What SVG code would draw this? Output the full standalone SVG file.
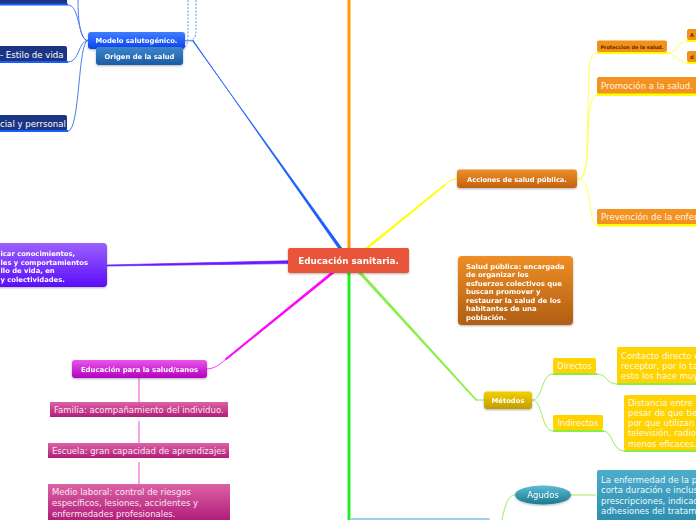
<svg xmlns="http://www.w3.org/2000/svg" width="696" height="520" viewBox="0 0 696 520">
<defs>
<linearGradient id="gBlue" x1="0" y1="0" x2="0" y2="1"><stop offset="0" stop-color="#3f7dff"/><stop offset="1" stop-color="#0a42ee"/></linearGradient>
<linearGradient id="gOrig" x1="0" y1="0" x2="0" y2="1"><stop offset="0" stop-color="#3e86cc"/><stop offset="1" stop-color="#1a5ba2"/></linearGradient>
<linearGradient id="gPurp" x1="0" y1="0" x2="0" y2="1"><stop offset="0" stop-color="#9c60ff"/><stop offset="1" stop-color="#5a0ef8"/></linearGradient>
<linearGradient id="gMag" x1="0" y1="0" x2="0" y2="1"><stop offset="0" stop-color="#ea55ea"/><stop offset="1" stop-color="#b400c0"/></linearGradient>
<linearGradient id="gPink" x1="0" y1="0" x2="0" y2="1"><stop offset="0" stop-color="#dc62a6"/><stop offset="1" stop-color="#b01e78"/></linearGradient>
<linearGradient id="gOr" x1="0" y1="0" x2="0" y2="1"><stop offset="0" stop-color="#ec8e2c"/><stop offset="1" stop-color="#c4620f"/></linearGradient>
<linearGradient id="gOr2" x1="0" y1="0" x2="0" y2="1"><stop offset="0" stop-color="#ee8e26"/><stop offset="1" stop-color="#b05e12"/></linearGradient>
<linearGradient id="gGold" x1="0" y1="0" x2="0" y2="1"><stop offset="0" stop-color="#f4d000"/><stop offset="1" stop-color="#c39c00"/></linearGradient>
<linearGradient id="gTeal" x1="0" y1="0" x2="0" y2="1"><stop offset="0" stop-color="#5cbcd4"/><stop offset="1" stop-color="#187890"/></linearGradient>
<linearGradient id="gTealBox" x1="0" y1="0" x2="0" y2="1"><stop offset="0" stop-color="#4eaccb"/><stop offset="1" stop-color="#2a8cae"/></linearGradient>
<filter id="sh" x="-10%" y="-20%" width="120%" height="150%"><feDropShadow dx="0" dy="1" stdDeviation="1" flood-color="#000" flood-opacity="0.3"/></filter>
</defs>
<style>
text{font-family:"DejaVu Sans",Verdana,sans-serif}
.b{font-weight:bold}
.w{fill:#ffffff}
.lt{fill:#fff2e6}
.pk{fill:#fbe4f2}
.yt{fill:#fffbe4}
.c{text-anchor:middle}
</style>

<g id="connectors">
  <polygon points="193,40.3 338.3,248 341.7,248 193,41.5" fill="#1a5cff" stroke="#1a5cff" stroke-width="0.7" stroke-linejoin="round"/>
  <path d="M185,40.8 L194,40.8" stroke="#3a70ff" stroke-width="1" fill="none"/>
  <rect x="347.5" y="0" width="3" height="248" fill="#ff9900"/>
  <polygon points="365.5,248 368.5,248 446,184.8 445.2,184" fill="#ffff00" stroke="#ffff00" stroke-width="0.7"/>
  <path d="M445.5,184.5 C449,181 452,179 457,179" stroke="#ffff00" stroke-width="1" fill="none"/>
  <polygon points="288,260.8 288,263.6 107,266 107,265" fill="#6a1cff" stroke="#6a1cff" stroke-width="0.7"/>
  <polygon points="330.5,273 334,273 226,360 225,359" fill="#ff00ff" stroke="#ff00ff" stroke-width="0.7"/>
  <path d="M225.5,359.5 C219,365 214,369 206,369" stroke="#ff33ff" stroke-width="1" fill="none"/>
  <rect x="347.5" y="273" width="3" height="247" fill="#22ee22"/>
  <polygon points="358.5,273 362,273 477,400 476,400.5" fill="#88ee44" stroke="#88ee44" stroke-width="0.7"/>
  <path d="M476.5,400 L484,400" stroke="#88ee44" stroke-width="1" fill="none"/>

  <g stroke="#4a7cf0" stroke-width="1" fill="none">
    <path d="M88,40.5 C78,40.5 80,5 68,5"/>
    <path d="M88,40.5 C80,40.5 78,20 78,0"/>
    <path d="M88,40.5 C78,40.5 80,62 68,62"/>
    <path d="M88,40.5 C78,40.5 80,131 68,131"/>
  </g>
  <g stroke="#5a90f0" stroke-width="1" fill="none" stroke-dasharray="2,1.5">
    <path d="M196,0 L196,30 Q196,40 190,40.5"/>
    <path d="M188,0 L188,36 Q188,46 183,49"/>
  </g>

  <g stroke="#ffff55" stroke-width="1" fill="none">
    <path d="M577,179 C585,179 586,170 587,150 L589,72 C590,57 592,53 598,53"/>
    <path d="M577,179 C585,179 587,165 588,140 C589,110 590,95 598,95"/>
    <path d="M577,179 C586,179 588,190 590,205 C592,220 594,225.5 598,225.5"/>
    <path d="M668,53 C676,53 678,41 688,41"/>
    <path d="M668,53 C676,53 678,63 688,63"/>
  </g>

  <g stroke="#99ee55" stroke-width="1" fill="none">
    <path d="M532,400 C543,400 541,374 553,374"/>
    <path d="M532,400 C543,400 541,431 553,431"/>
    <path d="M597,374 C607,374 606,384 617,384"/>
    <path d="M603,431 C613,431 612,451 624,451"/>
    <path d="M571,495 L596,495"/>
    <path d="M515,495 C508,495 505,505 502,520"/>
  </g>

  <g stroke="#f8a6ea" stroke-width="2" fill="none">
    <path d="M139,378 L139,402"/>
    <path d="M139,421 L139,443"/>
    <path d="M139,462 L139,484"/>
  </g>
</g>

<g id="n-top-clipped">
  <rect x="-4" y="-10" width="71" height="14" fill="#1b3584"/>
  <rect x="-4" y="3.5" width="72" height="2" fill="#1a5cff"/>
</g>
<g id="n-estilo">
  <rect x="-4" y="46" width="71" height="16" rx="2" fill="#1b3584"/>
  <rect x="-4" y="61" width="72" height="2" fill="#1a5cff"/>
  <text x="0" y="57.5" font-size="8.6" class="w">- Estilo de vida</text>
</g>
<g id="n-social">
  <rect x="-4" y="115" width="71" height="16" rx="2" fill="#1b3584"/>
  <rect x="-4" y="130" width="72" height="2" fill="#1a5cff"/>
  <text x="0" y="126.5" font-size="8.6" class="w">cial y perrsonal</text>
</g>

<g id="n-modelo" filter="url(#sh)">
  <rect x="88" y="32" width="97" height="17" rx="3" fill="url(#gBlue)"/>
  <text x="136.5" y="43.3" font-size="6.8" class="b w c">Modelo salutogénico.</text>
</g>
<g id="n-origen" filter="url(#sh)">
  <rect x="96" y="47" width="87" height="18" rx="3" fill="url(#gOrig)"/>
  <text x="139.5" y="58.8" font-size="6.8" class="b w c">Origen de la salud</text>
</g>

<g id="n-purple" filter="url(#sh)">
  <rect x="-6" y="243" width="113" height="44" rx="4" fill="url(#gPurp)"/>
  <text font-size="6.8" class="b w">
    <tspan x="0.5" y="255.5">icar conocimientos,</tspan>
    <tspan x="0.5" y="264.5">les y comportamientos</tspan>
    <tspan x="0.5" y="273">llo de vida, en</tspan>
    <tspan x="0.5" y="281.5">y colectividades.</tspan>
  </text>
</g>

<g id="n-center" filter="url(#sh)">
  <rect x="288" y="248" width="121" height="25" rx="2" fill="#e8553b"/>
  <text x="348.5" y="264.3" font-size="8.8" class="b w c">Educación sanitaria.</text>
</g>

<g id="n-edsalud" filter="url(#sh)">
  <rect x="72" y="360" width="135" height="18" rx="3" fill="url(#gMag)"/>
  <text x="139.5" y="371.8" font-size="6.9" class="b w c">Educación para la salud/sanos</text>
</g>
<g id="n-familia">
  <rect x="50" y="402" width="178" height="15" fill="url(#gPink)"/>
  <text x="54" y="413" font-size="8.5" class="pk">Familia: acompañamiento del individuo.</text>
</g>
<g id="n-escuela">
  <rect x="48" y="443" width="181" height="15" fill="url(#gPink)"/>
  <text x="52" y="454" font-size="8.5" class="pk">Escuela: gran capacidad de aprendizajes</text>
</g>
<g id="n-medio">
  <rect x="48" y="484" width="182" height="36" fill="url(#gPink)"/>
  <text font-size="8.5" class="pk">
    <tspan x="52" y="495">Medio laboral: control de riesgos</tspan>
    <tspan x="52" y="506">específicos, lesiones, accidentes y</tspan>
    <tspan x="52" y="516.5">enfermedades profesionales.</tspan>
  </text>
</g>

<g id="n-acciones" filter="url(#sh)">
  <rect x="457" y="169.5" width="120" height="18.5" rx="3" fill="url(#gOr)"/>
  <text x="517" y="181.8" font-size="6.7" class="b w c">Acciones de salud pública.</text>
</g>
<g id="n-proteccion">
  <rect x="597" y="40.5" width="70" height="11.5" rx="2" fill="#f39019"/>
  <rect x="597" y="52" width="71" height="2" fill="#ffff00"/>
  <text x="632" y="48.7" font-size="4.9" class="b c" fill="#5a2a00">Proteccion de la salud.</text>
</g>
<g id="n-prot-a">
  <rect x="687" y="29" width="14" height="11" rx="2" fill="#f39019"/>
  <rect x="687" y="40" width="14" height="2" fill="#ffff00"/>
  <text x="690" y="37" font-size="5" class="b" fill="#5a2a00">A</text>
</g>
<g id="n-prot-d">
  <rect x="687" y="51" width="14" height="11" rx="2" fill="#f39019"/>
  <rect x="687" y="62" width="14" height="2" fill="#ffff00"/>
  <text x="690" y="59" font-size="5" class="b" fill="#5a2a00">d</text>
</g>
<g id="n-promocion">
  <rect x="597" y="77" width="104" height="17" rx="2" fill="#f39220"/>
  <rect x="597" y="93.5" width="104" height="2.5" fill="#ffff00"/>
  <text x="601" y="89" font-size="8.6" class="lt">Promoción a la salud.</text>
</g>
<g id="n-prevencion">
  <rect x="597" y="209" width="104" height="15.5" rx="2" fill="#f39220"/>
  <rect x="597" y="224" width="104" height="2.5" fill="#ffff00"/>
  <text x="601" y="220" font-size="8.6" class="lt">Prevención de la enfer</text>
</g>

<g id="n-saludpublica" filter="url(#sh)">
  <rect x="458" y="256" width="115" height="69" rx="4" fill="url(#gOr2)"/>
  <text font-size="6.9" class="b w">
    <tspan x="466" y="268.5">Salud pública: encargada</tspan>
    <tspan x="466" y="277">de organizar los</tspan>
    <tspan x="466" y="285.5">esfuerzos colectivos que</tspan>
    <tspan x="466" y="294">buscan promover y</tspan>
    <tspan x="466" y="302.5">restaurar la salud de los</tspan>
    <tspan x="466" y="311">habitantes de una</tspan>
    <tspan x="466" y="319.5">población.</tspan>
  </text>
</g>

<g id="n-metodos" filter="url(#sh)">
  <rect x="484" y="391.5" width="48" height="17.5" rx="3" fill="url(#gGold)"/>
  <text x="508" y="403.3" font-size="6.8" class="b w c">Métodos</text>
</g>
<g id="n-directos">
  <rect x="553" y="358" width="43" height="15" rx="2" fill="#ffd200"/>
  <rect x="553" y="373" width="44" height="2" fill="#88ee44"/>
  <text x="574.5" y="369.3" font-size="8.4" class="yt c">Directos</text>
</g>
<g id="n-indirectos">
  <rect x="553" y="415" width="50" height="15" rx="2" fill="#ffd200"/>
  <rect x="553" y="430" width="51" height="2" fill="#88ee44"/>
  <text x="578" y="426" font-size="8.4" class="yt c">Indirectos</text>
</g>
<g id="n-contacto">
  <rect x="617" y="347" width="84" height="36.5" rx="2" fill="#ffd200"/>
  <rect x="617" y="383" width="84" height="2" fill="#88ee44"/>
  <text font-size="8.5" class="yt">
    <tspan x="621" y="358.5">Contacto directo e</tspan>
    <tspan x="621" y="368.5">receptor, por lo ta</tspan>
    <tspan x="621" y="378.5">esto los hace muy</tspan>
  </text>
</g>
<g id="n-distancia">
  <rect x="624" y="395" width="77" height="55" rx="2" fill="#ffd200"/>
  <rect x="624" y="450" width="77" height="2" fill="#88ee44"/>
  <text font-size="8.5" class="yt">
    <tspan x="628" y="405.5">Distancia entre</tspan>
    <tspan x="628" y="415.5">pesar de que tie</tspan>
    <tspan x="628" y="425.5">por que utilizan</tspan>
    <tspan x="628" y="435.5">televisión, radio</tspan>
    <tspan x="628" y="446.5">menos eficaces.</tspan>
  </text>
</g>

<g id="n-agudos" filter="url(#sh)">
  <ellipse cx="543" cy="495" rx="28" ry="9.5" fill="url(#gTeal)"/>
  <text x="543" y="498.3" font-size="8.5" class="w c">Agudos</text>
</g>
<g id="n-agudos-desc">
  <rect x="597" y="470" width="104" height="55" rx="2" fill="url(#gTealBox)"/>
  <text font-size="8.5" fill="#eef8fc">
    <tspan x="601" y="482.5">La enfermedad de la p</tspan>
    <tspan x="601" y="493">corta duración e inclus</tspan>
    <tspan x="601" y="503.5">prescripciones, indicac</tspan>
    <tspan x="601" y="514">adhesiones del tratam</tspan>
  </text>
</g>
<g id="n-bottom">
  <rect x="350" y="518" width="140" height="10" rx="2" fill="#9cd0ea"/>
</g>
</svg>
